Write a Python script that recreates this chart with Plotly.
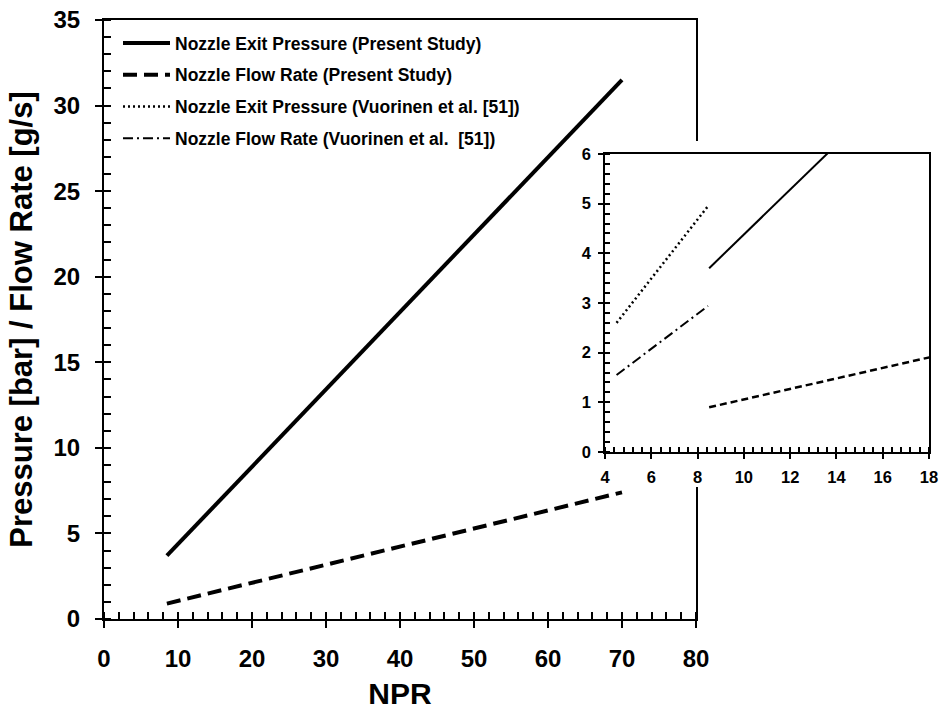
import plotly.graph_objects as go

# ---- data -------------------------------------------------------------
# Present study
npr_present = [8.5, 70]
exit_pressure_present = [3.7, 31.5]
flow_rate_present = [0.9, 7.4]

# Vuorinen et al. [51]
npr_vuorinen = [4.5, 8.45]
exit_pressure_vuorinen = [2.6, 4.95]
flow_rate_vuorinen = [1.55, 2.94]

series_names = [
    "Nozzle Exit Pressure (Present Study)",
    "Nozzle Flow Rate (Present Study)",
    "Nozzle Exit Pressure (Vuorinen et al. [51])",
    "Nozzle Flow Rate (Vuorinen et al.  [51])",
]

x_title = "NPR"
y_title = "Pressure [bar] / Flow Rate [g/s]"

# ---- page geometry (pixels of a 942 x 710 page) -----------------------
W, H = 942, 710


def xdom(a, b):
    return [a / W, b / W]


def ydom(top, bottom):
    return [(H - bottom) / H, (H - top) / H]


FONT = "Liberation Sans, Arial, sans-serif"
BLACK = "black"

fig = go.Figure()

# main plot
fig.add_trace(go.Scatter(
    x=npr_present, y=exit_pressure_present, mode="lines",
    name=series_names[0], legendgroup="a", legendrank=1,
    line=dict(color=BLACK, width=4),
    xaxis="x", yaxis="y"))
fig.add_trace(go.Scatter(
    x=npr_present, y=flow_rate_present, mode="lines",
    name=series_names[1], legendgroup="b", legendrank=2,
    line=dict(color=BLACK, width=4, dash="14px,7px"),
    xaxis="x", yaxis="y"))

# white panel behind the inset
fig.add_trace(go.Scatter(x=[], y=[], mode="lines", showlegend=False,
                         hoverinfo="skip", xaxis="x2", yaxis="y2"))

# inset (zoom of the low-NPR region)
fig.add_trace(go.Scatter(
    x=npr_present, y=exit_pressure_present, mode="lines",
    showlegend=False, line=dict(color=BLACK, width=2),
    xaxis="x3", yaxis="y3"))
fig.add_trace(go.Scatter(
    x=npr_present, y=flow_rate_present, mode="lines",
    showlegend=False, line=dict(color=BLACK, width=2.5, dash="7px,4px"),
    xaxis="x3", yaxis="y3"))
fig.add_trace(go.Scatter(
    x=npr_vuorinen, y=exit_pressure_vuorinen, mode="lines",
    name=series_names[2], legendgroup="c", legendrank=3,
    line=dict(color=BLACK, width=2.5, dash="2px,3px"),
    xaxis="x3", yaxis="y3"))
fig.add_trace(go.Scatter(
    x=npr_vuorinen, y=flow_rate_vuorinen, mode="lines",
    name=series_names[3], legendgroup="d", legendrank=4,
    line=dict(color=BLACK, width=2, dash="10px,4px,2px,4px"),
    xaxis="x3", yaxis="y3"))

tick_font_main = dict(family=FONT, size=24, color=BLACK, weight="bold")
tick_font_inset = dict(family=FONT, size=16.5, color=BLACK, weight="bold")
title_font_x = dict(family=FONT, size=30, color=BLACK, weight="bold")
title_font_y = dict(family=FONT, size=31, color=BLACK, weight="bold")

main_x = xdom(104, 696)
main_y = ydom(20, 619)
inset_x = xdom(605, 929)
inset_y = ydom(154, 452)

common = dict(showgrid=False, zeroline=False, automargin=False)

fig.update_layout(
    width=W, height=H,
    margin=dict(l=0, r=0, t=0, b=0, autoexpand=False),
    paper_bgcolor="white", plot_bgcolor="white",
    showlegend=True,
    legend=dict(
        x=118 / W, y=(H - 25) / H, xanchor="left", yanchor="top",
        bgcolor="rgba(0,0,0,0)", borderwidth=0,
        font=dict(family=FONT, size=17.5, color=BLACK, weight="bold"),
        tracegroupgap=6, itemwidth=47,
    ),
    # main axes
    xaxis=dict(
        domain=main_x, range=[0, 80], anchor="y", dtick=10, tick0=0,
        ticks="outside", ticklen=7, tickwidth=2, tickcolor=BLACK,
        minor=dict(dtick=2, ticks="inside", ticklen=7, tickwidth=2,
                   tickcolor=BLACK, showgrid=False),
        showline=True, linewidth=2, linecolor=BLACK, mirror=True,
        tickfont=tick_font_main, ticklabelstandoff=10,
        title=dict(text=x_title, font=title_font_x, standoff=13),
        **common),
    yaxis=dict(
        domain=main_y, range=[0, 35], anchor="x", dtick=5, tick0=0,
        ticks="outside", ticklen=7, tickwidth=2, tickcolor=BLACK,
        minor=dict(dtick=1, ticks="inside", ticklen=7, tickwidth=2,
                   tickcolor=BLACK, showgrid=False),
        showline=True, linewidth=2, linecolor=BLACK, mirror=True,
        tickfont=tick_font_main, ticklabelstandoff=10,
        title=dict(text=y_title, font=title_font_y, standoff=12),
        **common),
    # inward halves of the main major ticks
    xaxis4=dict(overlaying="x", anchor="y", side="bottom", range=[0, 80],
                dtick=10, tick0=0, ticks="inside", ticklen=7, tickwidth=2,
                tickcolor=BLACK, showticklabels=False, showline=False,
                **common),
    yaxis4=dict(overlaying="y", anchor="x", side="left", range=[0, 35],
                dtick=5, tick0=0, ticks="inside", ticklen=7, tickwidth=2,
                tickcolor=BLACK, showticklabels=False, showline=False,
                **common),
    # white panel
    xaxis2=dict(domain=xdom(570, W), anchor="y2", range=[0, 1],
                visible=False, **common),
    yaxis2=dict(domain=ydom(141, 487), anchor="x2", range=[0, 1],
                visible=False, **common),
    # inset axes
    xaxis3=dict(
        domain=inset_x, range=[4, 18], anchor="y3", dtick=2, tick0=0,
        ticks="outside", ticklen=5, tickwidth=1.5, tickcolor=BLACK,
        minor=dict(dtick=0.4, tick0=0, ticks="inside", ticklen=5,
                   tickwidth=1.5, tickcolor=BLACK, showgrid=False),
        showline=True, linewidth=1.5, linecolor=BLACK, mirror=True,
        tickfont=tick_font_inset, ticklabelstandoff=4,
        **common),
    yaxis3=dict(
        domain=inset_y, range=[0, 6], anchor="x3", dtick=1, tick0=0,
        ticks="outside", ticklen=5, tickwidth=1.5, tickcolor=BLACK,
        minor=dict(dtick=0.2, tick0=0, ticks="inside", ticklen=5,
                   tickwidth=1.5, tickcolor=BLACK, showgrid=False),
        showline=True, linewidth=1.5, linecolor=BLACK, mirror=True,
        tickfont=tick_font_inset, ticklabelstandoff=4,
        **common),
    xaxis5=dict(overlaying="x3", anchor="y3", side="bottom", range=[4, 18],
                dtick=2, tick0=0, ticks="inside", ticklen=5, tickwidth=1.5,
                tickcolor=BLACK, showticklabels=False, showline=False,
                **common),
    yaxis5=dict(overlaying="y3", anchor="x3", side="left", range=[0, 6],
                dtick=1, tick0=0, ticks="inside", ticklen=5, tickwidth=1.5,
                tickcolor=BLACK, showticklabels=False, showline=False,
                **common),
)

fig.write_html("out.html")
